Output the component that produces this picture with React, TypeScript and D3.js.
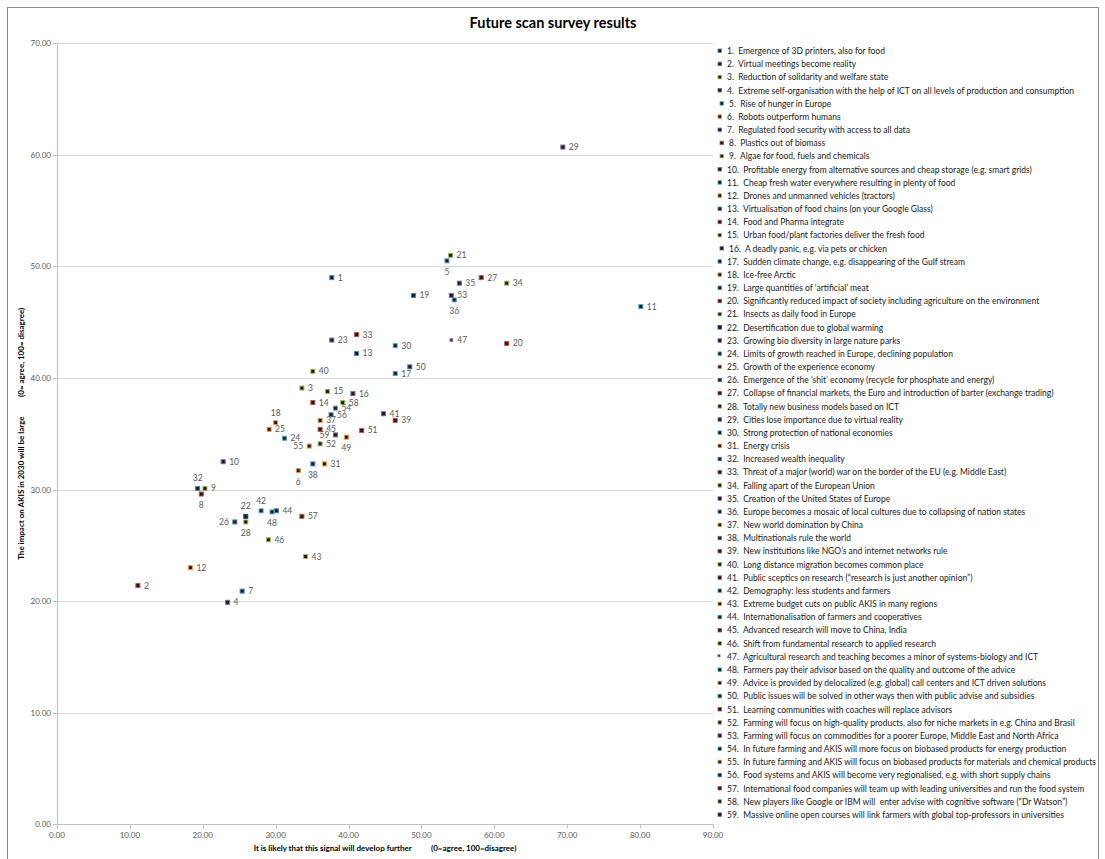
import React from "react";
import * as d3 from "d3";

const title = "Future scan survey results";
const xAxisTitle = "It is likely that this signal will develop further          (0=agree, 100=disagree)";
const yAxisTitle = "The impact on AKIS in 2030 will be large          (0= agree, 100= disagree)";

const signalNames: string[] = [
  "1.  Emergence of 3D printers, also for food",
  "2.  Virtual meetings become reality",
  "3.  Reduction of solidarity and welfare state",
  "4.  Extreme self-organisation with the help of ICT on all levels of production and consumption",
  " 5.  Rise of hunger in Europe",
  "6.  Robots outperform humans",
  "7.  Regulated food security with access to all data",
  " 8.  Plastics out of biomass",
  " 9.  Algae for food, fuels and chemicals",
  "10.  Profitable energy from alternative sources and cheap storage (e.g. smart grids)",
  "11.  Cheap fresh water everywhere resulting in plenty of food",
  "12.  Drones and unmanned vehicles (tractors)",
  "13.  Virtualisation of food chains (on your Google Glass)",
  "14.  Food and Pharma integrate",
  "15.  Urban food/plant factories deliver the fresh food",
  " 16.  A deadly panic, e.g. via pets or chicken",
  "17.  Sudden climate change, e.g. disappearing of the Gulf stream",
  "18.  Ice-free Arctic",
  "19.  Large quantities of \u2018artificial\u2019 meat",
  "20.  Significantly reduced impact of society including agriculture on the environment",
  "21.  Insects as daily food in Europe",
  "22.  Desertification due to global warming",
  "23.  Growing bio diversity in large nature parks",
  "24.  Limits of growth reached in Europe, declining population",
  "25.  Growth of the experience economy",
  "26.  Emergence of the \u2018shit\u2019 economy (recycle for phosphate and energy)",
  "27.  Collapse of financial markets, the Euro and introduction of barter (exchange trading)",
  "28.  Totally new business models based on ICT",
  "29.  Cities lose importance due to virtual reality",
  "30.  Strong protection of national economies",
  "31.  Energy crisis",
  "32.  Increased wealth inequality",
  "33.  Threat of a major (world) war on the border of the EU (e.g. Middle East)",
  "34.  Falling apart of the European Union",
  "35.  Creation of the United States of Europe",
  "36.  Europe becomes a mosaic of local cultures due to collapsing of nation states",
  "37.  New world domination by China",
  "38.  Multinationals rule the world",
  "39.  New institutions like NGO\u2019s and internet networks rule",
  "40.  Long distance migration becomes common place",
  "41.  Public sceptics on research (\u201cresearch is just another opinion\u201d)",
  "42.  Demography: less students and farmers",
  "43.  Extreme budget cuts on public AKIS in many regions",
  "44.  Internationalisation of farmers and cooperatives",
  "45.  Advanced research will move to China, India",
  "46.  Shift from fundamental research to applied research",
  "47.  Agricultural research and teaching becomes a minor of systems-biology and ICT",
  "48.  Farmers pay their advisor based on the quality and outcome of the advice",
  "49.  Advice is provided by delocalized (e.g. global) call centers and ICT driven solutions",
  "50.  Public issues will be solved in other ways then with public advise and subsidies",
  "51.  Learning communities with coaches will replace advisors",
  "52.  Farming will focus on high-quality products, also for niche markets in e.g. China and Brasil",
  "53.  Farming will focus on commodities for a poorer Europe, Middle East and North Africa",
  "54.  In future farming and AKIS will more focus on biobased products for energy production",
  "55.  In future farming and AKIS will focus on biobased products for materials and chemical products",
  "56.  Food systems and AKIS will become very regionalised, e.g. with short supply chains",
  "57.  International food companies will team up with leading universities and run the food system",
  "58.  New players like Google or IBM will  enter advise with cognitive software (\u201cDr Watson\u201d)",
  "59.  Massive online open courses will link farmers with global top-professors in universities",
];

const signalIds: string[] = signalNames.map((_, i) => String(i + 1));

// likelihood (x) and impact (y)
const likelihood: number[] = [
  37.7, 11.1, 33.6, 23.4, 53.5, 33.1, 25.4, 19.8, 20.3, 22.8,
  80.1, 18.3, 41.1, 35.1, 37.1, 40.6, 46.4, 30.0, 48.9, 61.7,
  54.0, 25.9, 37.7, 31.2, 29.1, 24.4, 58.2, 25.9, 69.4, 46.4,
  36.7, 19.3, 41.1, 61.7, 55.2, 54.5, 36.1, 35.1, 46.4, 35.1,
  44.8, 28.0, 34.1, 30.1, 36.1, 29.0, 54.1, 29.5, 39.7, 48.4,
  41.8, 36.1, 54.1, 38.2, 34.6, 37.6, 33.6, 39.2, 38.2,
];
const impact: number[] = [
  49.0, 21.4, 39.1, 19.9, 50.5, 31.7, 20.9, 29.6, 30.1, 32.5,
  46.4, 23.0, 42.2, 37.8, 38.8, 38.6, 40.4, 36.0, 47.4, 43.1,
  51.0, 27.6, 43.4, 34.6, 35.4, 27.1, 49.0, 27.1, 60.7, 42.9,
  32.3, 30.1, 43.9, 48.5, 48.5, 47.0, 36.2, 32.3, 36.2, 40.6,
  36.8, 28.1, 24.0, 28.1, 35.4, 25.5, 43.4, 28.0, 34.7, 41.0,
  35.3, 34.1, 47.4, 37.3, 33.9, 36.7, 27.6, 37.8, 34.9,
];
// data label placement: r = right, b = below, l = left, t = above
const labelPlacement: string[] = [
  "r", "r", "r", "r", "b", "b", "r", "b", "r", "r",
  "r", "r", "r", "r", "r", "r", "r", "t", "r", "r",
  "r", "t", "r", "r", "r", "l", "r", "b", "r", "r",
  "r", "t", "r", "r", "r", "b", "r", "b", "r", "r",
  "r", "t", "r", "r", "r", "r", "r", "b", "b", "r",
  "r", "r", "r", "r", "l", "r", "r", "r", "l",
];

const xTicks = [0, 10, 20, 30, 40, 50, 60, 70, 80, 90];
const yTicks = [0, 10, 20, 30, 40, 50, 60, 70];

const palette = ["#4F81BD", "#C0504D", "#9BBB59", "#8064A2", "#4BACC6", "#F79646"];
function colorOf(i: number): string {
  const n = i + 1;
  if (n <= 21) return palette[(n - 1) % 6];
  if (n === 22) return "#1F497D";
  return palette[(n - 2) % 6];
}

const FONT = "Lato, 'Open Sans', sans-serif";

export default function App() {
  const W = 1105;
  const H = 859;
  const x = d3.scaleLinear().domain([0, 90]).range([57, 713]);
  const y = d3.scaleLinear().domain([0, 70]).range([824.3, 43.3]);
  const fmt = d3.format(".2f");
  const legendX = 718;
  const legendY0 = 51;
  const legendStep = 13.17;

  return (
    <svg
      width={W}
      height={H}
      style={{ position: "absolute", left: 0, top: 0, background: "#fff" }}
      fontFamily={FONT}
    >
      <rect x={0} y={0} width={W} height={H} fill="#fff" />
      <rect x={7.5} y={7.5} width={1091} height={880} fill="none" stroke="#8c8c8c" strokeWidth={1} />

      <text x={553} y={28} textAnchor="middle" fontSize={14.5} fontWeight="bold" fill="#000">
        {title}
      </text>

      {/* gridlines */}
      {yTicks.map((t) => (
        <line
          key={"g" + t}
          x1={x(0)}
          x2={x(90)}
          y1={Math.round(y(t)) + 0.5}
          y2={Math.round(y(t)) + 0.5}
          stroke={t === 0 ? "#bfbfbf" : "#d9d9d9"}
          strokeWidth={1}
        />
      ))}
      {/* y axis */}
      <line x1={Math.round(x(0)) + 0.5} x2={Math.round(x(0)) + 0.5} y1={y(70)} y2={y(0)} stroke="#bfbfbf" />
      {yTicks.map((t) => (
        <g key={"yt" + t}>
          <line x1={x(0) - 4} x2={x(0)} y1={Math.round(y(t)) + 0.5} y2={Math.round(y(t)) + 0.5} stroke="#bfbfbf" />
          <text x={x(0) - 6} y={y(t) + 3} textAnchor="end" fontSize={8} fill="#595959">
            {fmt(t)}
          </text>
        </g>
      ))}
      {xTicks.map((t) => (
        <g key={"xt" + t}>
          <line x1={Math.round(x(t)) + 0.5} x2={Math.round(x(t)) + 0.5} y1={y(0)} y2={y(0) + 4} stroke="#bfbfbf" />
          <text x={x(t)} y={y(0) + 14} textAnchor="middle" fontSize={8} fill="#595959">
            {fmt(t)}
          </text>
        </g>
      ))}

      <text x={385} y={851} textAnchor="middle" fontSize={8} fontWeight="bold" fill="#000" style={{ whiteSpace: "pre" }}>
        {xAxisTitle}
      </text>
      <text
        transform={`translate(24, ${(y(0) + y(70)) / 2}) rotate(-90)`}
        textAnchor="middle"
        fontSize={8}
        fontWeight="bold"
        fill="#000"
        style={{ whiteSpace: "pre" }}
      >
        {yAxisTitle}
      </text>

      {/* points */}
      {likelihood.map((v, i) => {
        const cx = x(v);
        const cy = y(impact[i]);
        const s = i === 46 ? 2.5 : 4;
        return (
          <rect
            key={"p" + i}
            x={cx - s / 2}
            y={cy - s / 2}
            width={s}
            height={s}
            fill="#1a1a1a"
            stroke={colorOf(i)}
            strokeWidth={1}
          />
        );
      })}
      {likelihood.map((v, i) => {
        const cx = x(v);
        const cy = y(impact[i]);
        const p = labelPlacement[i];
        let lx = cx + 6;
        let ly = cy + 3;
        let anchor = "start";
        if (p === "b") {
          lx = cx;
          ly = cy + 14;
          anchor = "middle";
        } else if (p === "t") {
          lx = cx;
          ly = cy - 7;
          anchor = "middle";
        } else if (p === "l") {
          lx = cx - 6;
          anchor = "end";
        }
        return (
          <text key={"l" + i} x={lx} y={ly} textAnchor={anchor} fontSize={8.5} fill="#595959">
            {signalIds[i]}
          </text>
        );
      })}

      {/* legend */}
      {signalNames.map((name, i) => {
        const ly = legendY0 + i * legendStep;
        const indent = name.startsWith(" ") ? 2 : 0;
        return (
          <g key={"lg" + i}>
            <rect
              x={legendX + indent}
              y={ly - 2}
              width={i === 46 ? 2 : 3.5}
              height={i === 46 ? 2 : 3.5}
              fill="#1a1a1a"
              stroke={colorOf(i)}
              strokeWidth={0.8}
            />
            <text x={legendX + 9 + indent} y={ly + 3} fontSize={8.5} fill="#1a1a1a" style={{ whiteSpace: "pre" }}>
              {name.trimStart()}
            </text>
          </g>
        );
      })}
    </svg>
  );
}
